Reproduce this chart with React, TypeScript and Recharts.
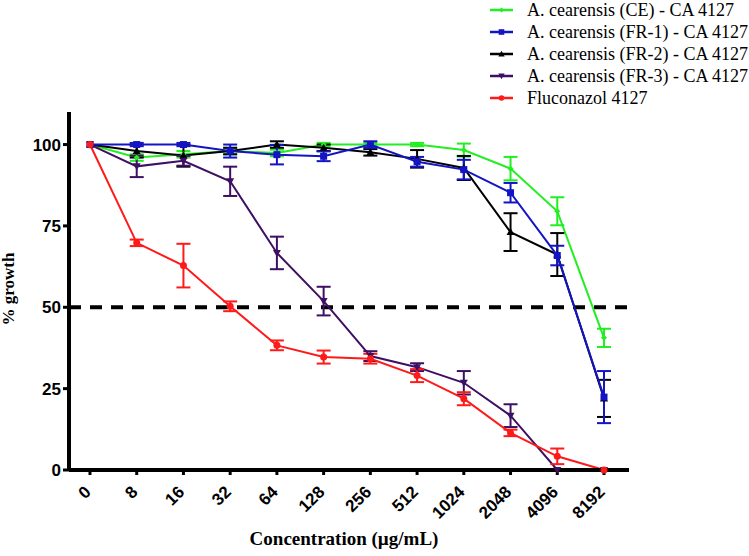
import React from 'react';
import {
  ErrorBar,
  Line,
  LineChart,
  ReferenceLine,
  XAxis,
  YAxis,
} from 'recharts';

// concentrações (µg/mL) e % de crescimento
const concentrations = ['0', '8', '16', '32', '64', '128', '256', '512', '1024', '2048', '4096', '8192'];

const ceValues = [100, 96, 97, 98, 97.4, 100, 100, 100, 98.3, 92.6, 79.5, 40.6];
const ceErrors = [0, 1, 1, 1, 1, 0.5, 0.5, 0.5, 2, 3.6, 4.3, 2.8];
const fr1Values = [100, 100, 100, 98, 96.9, 96.4, 100, 94.7, 92.3, 85.2, 65.9, 22.4];
const fr1Errors = [0, 0.5, 0.5, 2, 3, 1.5, 1, 1.5, 3, 3, 3, 8];
const fr2Values = [100, 98, 96.6, 98, 100, 99, 97.6, 95.6, 92.8, 73.1, 66.2, 22];
const fr2Errors = [0, 2, 3.4, 1, 1, 1, 1, 2.7, 3.7, 5.8, 6.6, 5.7];
const fr3Values = [100, 93.3, 95, 88.7, 66.7, 51.9, 35, 31.6, 26.8, 16.7, 0, 0];
const fr3Errors = [0, 3.3, 1.5, 4.5, 5, 4.4, 1.5, 1.2, 3.6, 3.5, 0, 0];
const fluValues = [100, 69.8, 62.8, 50.3, 38.3, 34.7, 34.2, 29, 21.9, 11.4, 4.2, 0];
const fluErrors = [0, 1, 6.7, 1.5, 1.5, 2, 1.5, 2, 2, 1, 2.4, 0];

const yTicks = [0, 25, 50, 75, 100];

const data = concentrations.map((c, i) => ({
  idx: i,
  conc: c,
  ce: ceValues[i],
  ceErr: ceErrors[i],
  fr1: fr1Values[i],
  fr1Err: fr1Errors[i],
  fr2: fr2Values[i],
  fr2Err: fr2Errors[i],
  fr3: fr3Values[i],
  fr3Err: fr3Errors[i],
  flu: fluValues[i],
  fluErr: fluErrors[i],
}));

const GREEN = '#22ee22';
const BLUE = '#1414c4';
const BLACK = '#000000';
const PURPLE = '#3e0f62';
const RED = '#ff1a1a';

const SERIF = 'Liberation Serif, Times New Roman, serif';
const SANS = 'Liberation Sans, Arial, sans-serif';

type Shape = 'diamond' | 'square' | 'up' | 'down' | 'circle';

function Marker({ cx, cy, shape, color, s = 1 }: { cx: number; cy: number; shape: Shape; color: string; s?: number }) {
  if (cx == null || cy == null) return null;
  if (shape === 'square') return <rect x={cx - 3.5 * s} y={cy - 3.5 * s} width={7 * s} height={7 * s} fill={color} />;
  if (shape === 'diamond')
    return <polygon points={`${cx},${cy - 3 * s} ${cx + 3 * s},${cy} ${cx},${cy + 3 * s} ${cx - 3 * s},${cy}`} fill={color} />;
  if (shape === 'up')
    return <polygon points={`${cx},${cy - 4 * s} ${cx + 4 * s},${cy + 3 * s} ${cx - 4 * s},${cy + 3 * s}`} fill={color} />;
  if (shape === 'down')
    return <polygon points={`${cx},${cy + 4 * s} ${cx + 4 * s},${cy - 3 * s} ${cx - 4 * s},${cy - 3 * s}`} fill={color} />;
  return <circle cx={cx} cy={cy} r={3.5 * s} fill={color} />;
}

const series = [
  { key: 'ce', name: 'A. cearensis (CE) - CA 4127', color: GREEN, shape: 'diamond' as Shape },
  { key: 'fr2', name: 'A. cearensis (FR-2) - CA 4127', color: BLACK, shape: 'up' as Shape },
  { key: 'fr1', name: 'A. cearensis (FR-1) - CA 4127', color: BLUE, shape: 'square' as Shape },
  { key: 'fr3', name: 'A. cearensis (FR-3) - CA 4127', color: PURPLE, shape: 'down' as Shape },
  { key: 'flu', name: 'Fluconazol 4127', color: RED, shape: 'circle' as Shape },
];

const legendOrder = ['ce', 'fr1', 'fr2', 'fr3', 'flu'];

function XTick({ x, y, payload }: any) {
  const tx = x + 2;
  const ty = y + 16;
  return (
    <text
      x={tx}
      y={ty}
      transform={`rotate(-45, ${tx}, ${ty})`}
      textAnchor="end"
      fontFamily={SANS}
      fontWeight="bold"
      fontSize={17}
      fill="#000"
    >
      {concentrations[payload.value]}
    </text>
  );
}

const YLabel = () => (
  <text
    x={14}
    y={289}
    transform="rotate(-90, 14, 289)"
    textAnchor="middle"
    fontFamily={SERIF}
    fontWeight="bold"
    fontSize={17}
    fill="#000"
  >
    % growth
  </text>
);

const XLabel = () => (
  <text x={344} y={545} textAnchor="middle" fontFamily={SERIF} fontWeight="bold" fontSize={19} fill="#000">
    Concentration (µg/mL)
  </text>
);

export default function App() {
  return (
    <div style={{ position: 'absolute', left: 0, top: 0, width: 749, height: 556, background: '#fff' }}>
      <LineChart width={749} height={556} data={data} margin={{ top: 112, right: 120, left: 9, bottom: 25 }}>
        <XAxis
          type="number"
          dataKey="idx"
          domain={[-0.449, 11.535]}
          ticks={concentrations.map((_, i) => i)}
          interval={0}
          height={61}
          axisLine={{ stroke: '#000', strokeWidth: 4 }}
          tickLine={{ stroke: '#000', strokeWidth: 3 }}
          tickSize={5}
          tick={<XTick />}
          label={{ content: XLabel }}
        />
        <YAxis
          domain={[0, 110]}
          ticks={yTicks}
          width={60}
          axisLine={{ stroke: '#000', strokeWidth: 4 }}
          tickLine={{ stroke: '#000', strokeWidth: 3 }}
          tickSize={6}
          tick={{ fontFamily: SANS, fontWeight: 'bold', fontSize: 17, fill: '#000' }}
          label={{ content: YLabel }}
        />
        <ReferenceLine y={50} stroke="#000" strokeWidth={4} strokeDasharray="12 9" />
        {series.map((s) => (
          <Line
            key={s.key}
            type="linear"
            dataKey={s.key}
            stroke={s.color}
            strokeWidth={2}
            isAnimationActive={false}
            dot={(p: any) => <Marker key={`${s.key}-${p.index}`} cx={p.cx} cy={p.cy} shape={s.shape} color={s.color} />}
            activeDot={false}
          >
            <ErrorBar dataKey={`${s.key}Err`} direction="y" width={7} strokeWidth={2} stroke={s.color} isAnimationActive={false} />
          </Line>
        ))}
      </LineChart>
      <div style={{ position: 'absolute', left: 488, top: -1, fontFamily: SERIF, fontSize: 18, color: '#000' }}>
        {legendOrder.map((k, i) => {
          const s = series.find((x) => x.key === k)!;
          return (
            <div key={k} style={{ position: 'absolute', top: i * 22, left: 0, height: 22, display: 'flex', alignItems: 'center', whiteSpace: 'nowrap' }}>
              <svg width={28} height={12} style={{ marginRight: 11 }}>
                <line x1={2} y1={6} x2={25} y2={6} stroke={s.color} strokeWidth={2.5} />
                <Marker cx={13.5} cy={6} shape={s.shape} color={s.color} s={0.8} />
              </svg>
              <span>{s.name}</span>
            </div>
          );
        })}
      </div>
    </div>
  );
}
